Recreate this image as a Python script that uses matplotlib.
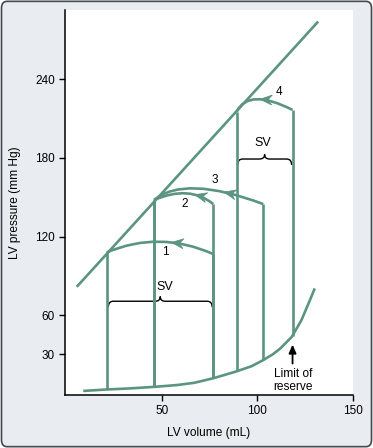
import numpy as np
import matplotlib
matplotlib.use('Agg')
import matplotlib.pyplot as plt
from matplotlib.path import Path
from matplotlib.patches import PathPatch, FancyBboxPatch, Polygon
from matplotlib.transforms import IdentityTransform

plt.rcParams['font.family'] = ['Liberation Sans', 'DejaVu Sans']

GREEN = '#5b9482'

# end-diastolic pressure-volume relation
edpvr_vol = [9, 21, 33, 46, 58, 67, 77, 89, 97, 103, 108, 112, 118, 123, 127.5, 130]
edpvr_prs = [2.1, 3.2, 4.0, 5.2, 6.6, 8.3, 11.8, 17, 21, 25.6, 30, 34.5, 43.4, 56, 71.5, 80.4]

# end-systolic pressure-volume line
espvr_vol = [5.6, 131.8]
espvr_prs = [81.6, 284.2]

# loops 1..4
loop_names = ['1', '2', '3', '4']
esv = [21.3, 46, 46, 89.2]
edv = [77, 77, 103.1, 118.4]
es_prs = [107.9, 147.9, 147.9, 215.4]
ej_prs = [106.6, 144.8, 144.8, 216.7]
peak_vol = [49, 63, 68.3, 99.6]
peak_prs = [116.1, 153, 156.8, 224.9]
arrow_vol = [55.2, 67.4, 82.5, 101.4]
label_vol = [51.7, 61.8, 77.8, 111.4]
label_prs = [107.9, 144.6, 163.2, 230.2]

# stroke volume braces
sv_x0 = [22.1, 89.7]
sv_x1 = [76.4, 117.9]
sv_y = [70.6, 179.2]
sv_text_x = [51.7, 103.1]
sv_text_y = [81.6, 191.2]

xticks = [50, 100, 150]
yticks = [30, 60, 120, 180, 240]

fig = plt.figure(figsize=(3.73, 4.48), dpi=100)
fig.patch.set_facecolor('white')
fig.add_artist(FancyBboxPatch((0.004, 0.003), 0.992, 0.994,
                              boxstyle='round,pad=0,rounding_size=0.015',
                              transform=fig.transFigure, facecolor='#e9edf1',
                              edgecolor='#45494d', lw=1.2, zorder=-10))
ax = fig.add_axes([64.5 / 373, 53 / 448, 288.5 / 373, 385 / 448])
ax.set_facecolor('white')
ax.set_xlim(-0.8, 150)
ax.set_ylim(-1, 293)
ax.set_autoscale_on(False)

for s in ['top', 'right']:
    ax.spines[s].set_visible(False)
for s in ['left', 'bottom']:
    ax.spines[s].set_linewidth(1.1)
ax.set_xticks(xticks)
ax.set_yticks(yticks)
ax.tick_params(direction='out', length=4, width=1, labelsize=8.5, pad=3)
ax.set_xlabel('LV volume (mL)', fontsize=8.6)
ax.set_ylabel('LV pressure (mm Hg)', fontsize=8.6)
ax.xaxis.set_label_coords(0.5, -0.083)
ax.yaxis.set_label_coords(-0.15, 0.5)

lw = 1.9
ax.plot(edpvr_vol, edpvr_prs, color=GREEN, lw=lw, solid_capstyle='butt')
ax.plot(espvr_vol, espvr_prs, color=GREEN, lw=lw, solid_capstyle='butt')


def bottom_of(v):
    return np.interp(v, edpvr_vol, edpvr_prs)


arrow_heads = []
for i in range(4):
    # vertical limbs
    ax.plot([esv[i], esv[i]], [bottom_of(esv[i]), es_prs[i]], color=GREEN, lw=lw,
            solid_capstyle='butt')
    ax.plot([edv[i], edv[i]], [bottom_of(edv[i]), ej_prs[i]], color=GREEN, lw=lw,
            solid_capstyle='butt')
    # ejection arc (right -> left)
    p0 = np.array([edv[i], ej_prs[i]])
    p2 = np.array([esv[i], es_prs[i]])
    c = 2 * np.array([peak_vol[i], peak_prs[i]]) - 0.5 * (p0 + p2)
    path = Path([p0, c, p2], [Path.MOVETO, Path.CURVE3, Path.CURVE3])
    ax.add_patch(PathPatch(path, fill=False, edgecolor=GREEN, lw=lw))
    t = np.linspace(0, 1, 401)[:, None]
    pts = (1 - t) ** 2 * p0 + 2 * (1 - t) * t * c + t ** 2 * p2
    k = np.argmin(np.abs(pts[:, 0] - arrow_vol[i]))
    tt = t[k, 0]
    tan = 2 * (1 - tt) * (c - p0) + 2 * tt * (p2 - c)
    arrow_heads.append((pts[k], tan))
    ax.text(label_vol[i], label_prs[i], loop_names[i], fontsize=8.5,
            ha='center', va='center')

fig.canvas.draw()
for tip, tan in arrow_heads:
    a = ax.transData.transform(tip)
    b = ax.transData.transform(tip + 0.01 * tan)
    d = (b - a) / np.hypot(*(b - a))
    n = np.array([-d[1], d[0]])
    L, W, notch = 12.0, 10.0, 4.0
    poly = [a, a - L * d + W / 2 * n, a - (L - notch) * d, a - L * d - W / 2 * n]
    fig.add_artist(Polygon(poly, closed=True, transform=IdentityTransform(),
                           facecolor=GREEN, edgecolor=GREEN, lw=0.5, zorder=5))


def brace(x0, x1, y, r=2.6, h_end=4.5, h_tip=3.6):
    xm = 0.5 * (x0 + x1)
    verts = [(x0, y - h_end), (x0, y), (x0 + r, y),
             (xm - r, y), (xm, y), (xm, y + h_tip),
             (xm, y), (xm + r, y),
             (x1 - r, y), (x1, y), (x1, y - h_end)]
    codes = [Path.MOVETO, Path.CURVE3, Path.CURVE3,
             Path.LINETO, Path.CURVE3, Path.CURVE3,
             Path.CURVE3, Path.CURVE3,
             Path.LINETO, Path.CURVE3, Path.CURVE3]
    ax.add_patch(PathPatch(Path(verts, codes), fill=False, edgecolor='black', lw=1.0))


for i in range(2):
    brace(sv_x0[i], sv_x1[i], sv_y[i])
    ax.text(sv_text_x[i], sv_text_y[i], 'SV', fontsize=9, ha='center', va='center')

# limit of reserve
ax.annotate('', xy=(118.4, 37.5), xytext=(118.4, 23),
            arrowprops=dict(arrowstyle='-|>,head_length=0.5,head_width=0.22',
                            color='black', lw=1.3, shrinkA=0, shrinkB=0))
ax.text(118.8, 10.1, 'Limit of\nreserve', fontsize=8.6, ha='center', va='center',
        linespacing=1.1)

fig.savefig('out.png', dpi=100, facecolor=fig.get_facecolor())
